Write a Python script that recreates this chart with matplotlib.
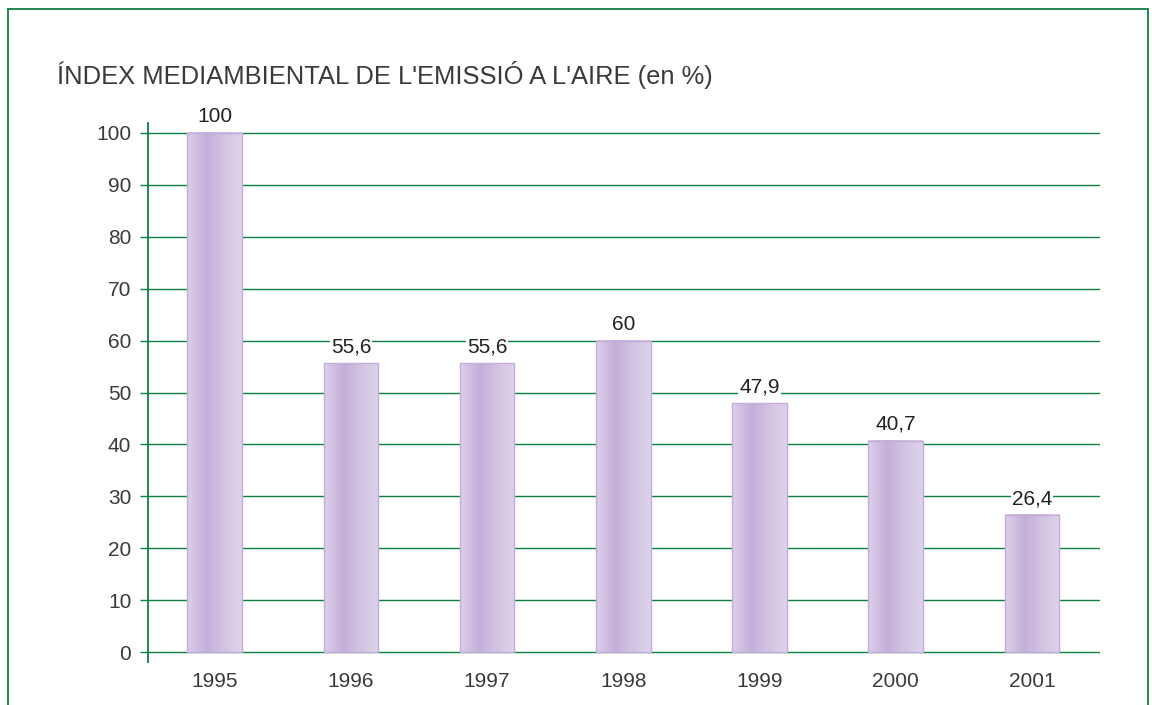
import numpy as np
import matplotlib.pyplot as plt
from matplotlib.patches import Rectangle
from matplotlib.colors import LinearSegmentedColormap

# dades
anys = ['1995', '1996', '1997', '1998', '1999', '2000', '2001']
valors = [100, 55.6, 55.6, 60, 47.9, 40.7, 26.4]
etiquetes = ['100', '55,6', '55,6', '60', '47,9', '40,7', '26,4']
yticks = [0, 10, 20, 30, 40, 50, 60, 70, 80, 90, 100]

VERD = '#0e7f43'
TEXT = '#3a3a3a'
plt.rcParams['font.family'] = ['Liberation Sans', 'DejaVu Sans']

fig = plt.figure(figsize=(11.52, 7.05), dpi=100)
W, H = 1152, 705

# marc verd de la figura (obert per sota)
fig.add_artist(Rectangle((8 / W, -0.05), (1148 - 8) / W, 1 - 9 / H + 0.05,
                         transform=fig.transFigure, fill=False,
                         edgecolor=VERD, linewidth=1.3))

fig.text(57 / W, 1 - 75 / H, "ÍNDEX MEDIAMBIENTAL DE L'EMISSIÓ A L'AIRE (en %)",
         fontsize=18.4, color=TEXT, va='center', ha='left')

ax = fig.add_axes([148 / W, 1 - 662 / H, (1100 - 148) / W, (662 - 123) / H])

for t in yticks:
    ax.axhline(t, color=VERD, linewidth=1.0, zorder=1)

cmap = LinearSegmentedColormap.from_list(
    'barra', [(0, '#dbd0e8'), (0.35, '#c4afd9'), (0.7, '#d3c5e3'), (1, '#ddd3ea')])
grad = np.linspace(0, 1, 200).reshape(1, -1)
amplada = 0.40
x = np.arange(len(anys))
for xi, v, lab in zip(x, valors, etiquetes):
    x0 = xi - amplada / 2
    ax.imshow(grad, cmap=cmap, extent=(x0, x0 + amplada, 0, v),
              aspect='auto', zorder=2, interpolation='bilinear')
    ax.add_patch(Rectangle((x0, 0), amplada, v, fill=False,
                           edgecolor='#c3acd9', linewidth=1, zorder=3))
    ax.annotate(lab, (xi, v), xytext=(0, 5), textcoords='offset points',
                ha='center', va='bottom', fontsize=15, color='#222222',
                bbox=dict(boxstyle='square,pad=0.05', fc='white', ec='none'),
                zorder=4)

ax.set_xlim(-0.49, 6.5)
ax.set_ylim(-1.9, 101.9)
ax.set_xticks(x)
ax.set_xticklabels(anys)
ax.set_yticks(yticks)
ax.tick_params(axis='x', length=0, pad=7, labelsize=15, labelcolor=TEXT)
ax.tick_params(axis='y', length=6, width=1.0, color=VERD, pad=6,
               labelsize=15, labelcolor=TEXT)

for s in ['top', 'right', 'bottom']:
    ax.spines[s].set_visible(False)
ax.spines['left'].set_color(VERD)
ax.spines['left'].set_linewidth(1.3)

fig.savefig('out.png', dpi=100)
